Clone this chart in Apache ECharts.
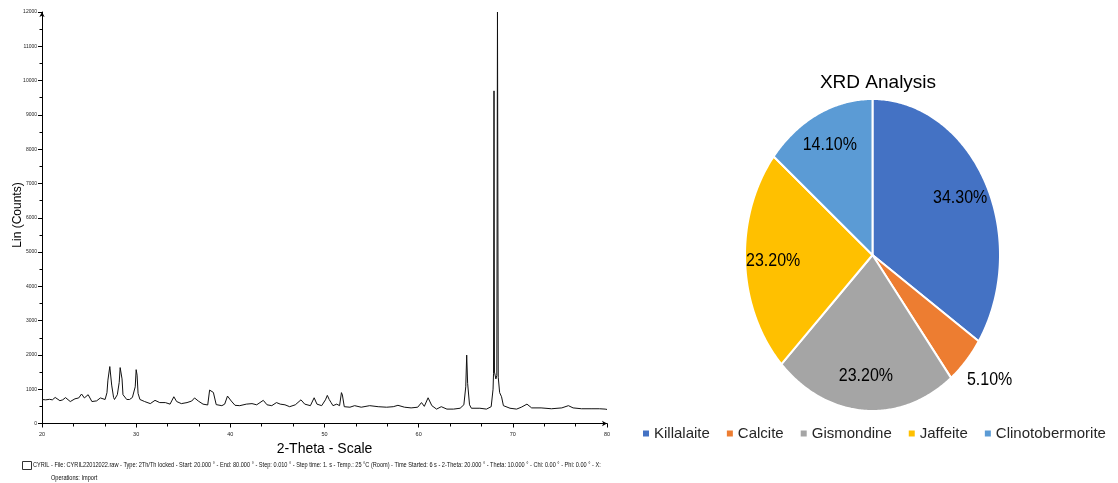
<!DOCTYPE html>
<html>
<head>
<meta charset="utf-8">
<script src="https://cdn.jsdelivr.net/npm/echarts@6/dist/echarts.min.js"></script>
<style>
  html, body { margin: 0; padding: 0; background: #ffffff; }
  #main { width: 1118px; height: 483px; }
</style>
</head>
<body>
<div id="main"></div>
<script>
// Diffractogram: 2-theta (degrees) and intensity (counts)
const twoTheta = [
  20.0, 20.4, 20.8, 21.1, 21.4, 21.9, 22.2, 22.5, 23.0, 23.5, 23.9, 24.2, 24.5, 24.9,
  25.3, 25.8, 26.2, 26.7, 26.9, 27.0, 27.2, 27.4, 27.6, 27.7, 28.0, 28.2, 28.3, 28.5,
  28.6, 29.0, 29.3, 29.6, 29.9, 30.0, 30.1, 30.2, 30.4, 30.9, 31.5, 32.0, 32.5, 33.1,
  33.6, 34.0, 34.3, 34.8, 35.4, 35.9, 36.2, 36.6, 37.1, 37.6, 37.7, 37.8, 38.2, 38.4,
  38.5, 39.1, 39.4, 39.7, 39.8, 40.1, 40.5, 41.0, 41.7, 42.3, 42.8, 43.5, 43.9, 44.4,
  44.9, 45.3, 45.8, 46.3, 46.9, 47.5, 47.9, 48.5, 48.9, 49.2, 49.7, 50.1, 50.3, 50.5,
  50.7, 50.9, 51.3, 51.6, 51.8, 51.9, 52.1, 52.7, 53.2, 53.9, 54.8, 55.7, 56.6, 57.3,
  57.8, 58.5, 59.2, 59.9, 60.3, 60.6, 61.0, 61.4, 61.9, 62.4, 63.0, 63.7, 64.4, 64.8,
  65.0, 65.1, 65.2, 65.4, 65.6, 66.5, 67.2, 67.7, 67.9, 67.95, 68.0, 68.05, 68.2, 68.3,
  68.37, 68.45, 68.6, 68.8, 69.0, 69.7, 70.4, 70.9, 71.5, 72.0, 73.0, 74.1, 75.2, 75.9,
  76.4, 77.3, 78.4, 79.2, 79.8, 80.0
];
const counts = [
  700, 690, 705, 690, 760, 665, 690, 755, 640, 720, 745, 860, 745, 840,
  640, 660, 745, 700, 900, 1265, 1660, 1120, 760, 700, 840, 1200, 1630, 1300,
  840, 700, 700, 760, 1070, 1570, 1410, 880, 700, 640, 580, 675, 610, 610,
  565, 780, 640, 580, 610, 655, 745, 655, 565, 540, 560, 975, 905, 880,
  550, 520, 565, 800, 850, 655, 530, 520, 565, 580, 545, 675, 545, 520,
  610, 565, 545, 490, 545, 690, 565, 520, 750, 565, 520, 690, 820, 700,
  610, 520, 565, 520, 900, 830, 490, 475, 520, 475, 520, 490, 475, 490,
  530, 475, 455, 475, 610, 500, 750, 520, 420, 490, 420, 420, 445, 545,
  1070, 1995, 1170, 545, 445, 445, 420, 490, 1000, 1450, 9700, 1500, 1300, 1400,
  12000, 1350, 900, 780, 520, 445, 420, 475, 565, 455, 455, 430, 455, 520,
  455, 430, 430, 430, 420, 410
];

// Phase composition (percent)
const phases = ['Killalaite', 'Calcite', 'Gismondine', 'Jaffeite', 'Clinotobermorite'];
const shares = [34.3, 5.1, 23.2, 23.2, 14.1];
const phaseColors = ['#4472C4', '#ED7D31', '#A5A5A5', '#FFC000', '#5B9BD5'];

// Measurement header printed under the diffractogram
const footerLines = [
  'CYRIL - File: CYRIL22012022.raw - Type: 2Th/Th locked - Start: 20.000 ° - End: 80.000 ° - Step: 0.010 ° - Step time: 1. s - Temp.: 25 °C (Room) - Time Started: 6 s - 2-Theta: 20.000 ° - Theta: 10.000 ° - Chi: 0.00 ° - Phi: 0.00 ° - X:',
  'Operations: Import'
];

const FONT = '"Liberation Sans", Arial, sans-serif';
const chart = echarts.init(document.getElementById('main'), null, { renderer: 'canvas' });

const pattern = twoTheta.map((t, i) => [t, counts[i]]);
const total = shares.reduce((a, b) => a + b, 0);

// Elliptical pie geometry
const PIE = { cx: 872.5, cy: 255, rx: 127.5, ry: 156 };

function sliceRenderer(idx) {
  return function (params, api) {
    const before = shares.slice(0, idx).reduce((a, b) => a + b, 0);
    const val = api.value(1);
    const a0 = before / total * Math.PI * 2;
    const a1 = (before + val) / total * Math.PI * 2;
    const pts = [[PIE.cx, PIE.cy]];
    const n = Math.max(12, Math.ceil((a1 - a0) / 0.01));
    for (let k = 0; k <= n; k++) {
      const t = a0 + (a1 - a0) * k / n;
      pts.push([PIE.cx + PIE.rx * Math.sin(t), PIE.cy - PIE.ry * Math.cos(t)]);
    }
    const mid = (a0 + a1) / 2;
    const small = val / total < 0.08;
    const f = small ? 1.22 : 0.78;
    const lx = PIE.cx + f * PIE.rx * Math.sin(mid) + (small ? 3 : 0);
    const ly = PIE.cy - f * PIE.ry * Math.cos(mid) - (small ? 4 : 0);
    return {
      type: 'group',
      children: [
        {
          type: 'polygon',
          shape: { points: pts },
          style: { fill: api.visual('color'), stroke: '#ffffff', lineWidth: 2, lineJoin: 'round' }
        },
        {
          type: 'text',
          x: lx, y: ly, scaleY: 1.15, z2: 10,
          style: {
            text: val.toFixed(2) + '%', fill: '#000000', fontSize: 16, fontFamily: FONT,
            align: 'center', verticalAlign: 'middle'
          }
        }
      ]
    };
  };
}

const pieSeries = phases.map((name, i) => ({
  type: 'custom',
  name: name,
  coordinateSystem: 'none',
  itemStyle: { color: phaseColors[i] },
  data: [[i, shares[i]]],
  renderItem: sliceRenderer(i),
  animation: false
}));

const option = {
  backgroundColor: '#ffffff',
  animation: false,
  title: {
    text: 'XRD Analysis',
    left: 873, top: 68, textAlign: 'center',
    textStyle: { fontSize: 19, fontWeight: 'normal', color: '#000000', fontFamily: FONT }
  },
  legend: {
    data: phases,
    left: 638, top: 421,
    icon: 'rect', itemWidth: 6, itemHeight: 6, itemGap: 17,
    textStyle: { fontSize: 15, color: '#262626', fontFamily: FONT }
  },
  grid: { left: 42, right: 511, top: 12, bottom: 59.5, outerBoundsMode: 'none', containLabel: false },
  xAxis: {
    type: 'value', min: 20, max: 80, interval: 10,
    name: '2-Theta - Scale', nameLocation: 'middle', nameGap: 14,
    nameTextStyle: { fontSize: 14, color: '#000000', fontFamily: FONT },
    axisLine: { lineStyle: { color: '#000000', width: 1 }, symbol: ['none', 'arrow'], symbolSize: [4, 5] },
    axisTick: { show: true, length: 4, lineStyle: { color: '#000000' } },
    minorTick: { show: true, splitNumber: 3, length: 3, lineStyle: { color: '#000000' } },
    axisLabel: { fontSize: 5.5, color: '#222222', margin: 8, fontFamily: FONT },
    splitLine: { show: false }
  },
  yAxis: {
    type: 'value', min: 0, max: 12000, interval: 1000,
    axisLine: { show: true, lineStyle: { color: '#000000', width: 1 }, symbol: ['none', 'arrow'], symbolSize: [4, 5] },
    axisTick: { show: true, length: 4, lineStyle: { color: '#000000' } },
    minorTick: { show: true, splitNumber: 2, length: 2.5, lineStyle: { color: '#000000' } },
    axisLabel: { fontSize: 5, color: '#222222', margin: 5, fontFamily: FONT, formatter: (v) => String(v) },
    splitLine: { show: false }
  },
  graphic: [
    {
      type: 'text', x: 18, y: 215, rotation: Math.PI / 2,
      style: { text: 'Lin (Counts)', fontSize: 12, fill: '#000000', fontFamily: FONT, align: 'center', verticalAlign: 'middle' }
    },
    {
      type: 'rect', left: 22, top: 461, shape: { width: 9, height: 8 },
      style: { fill: '#ffffff', stroke: '#333333', lineWidth: 1 }
    },
    {
      type: 'text', x: 33, y: 465, scaleY: 1.2,
      style: { text: footerLines[0], fontSize: 5.6, fill: '#111111', fontFamily: FONT, verticalAlign: 'middle' }
    },
    {
      type: 'text', x: 51, y: 478, scaleY: 1.2,
      style: { text: footerLines[1], fontSize: 5.6, fill: '#111111', fontFamily: FONT, verticalAlign: 'middle' }
    }
  ],
  series: [
    {
      type: 'line',
      name: 'Pattern',
      data: pattern,
      showSymbol: false,
      symbol: 'none',
      lineStyle: { color: '#111111', width: 1 },
      clip: true,
      animation: false
    }
  ].concat(pieSeries)
};

chart.setOption(option);
</script>
</body>
</html>
